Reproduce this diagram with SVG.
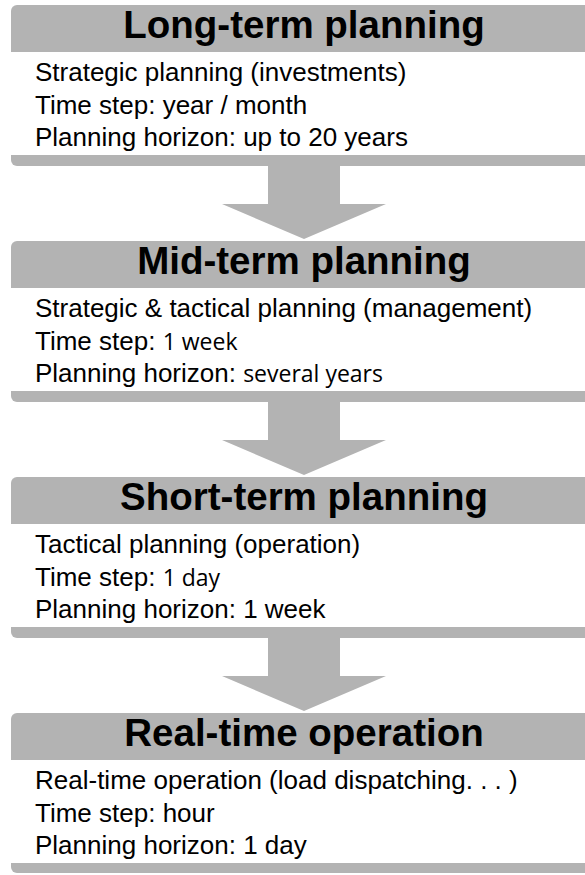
<svg xmlns="http://www.w3.org/2000/svg" width="585" height="875" viewBox="0 0 585 875">
  <style>
    .frame { fill: #b3b3b3; }
    .body { fill: #ffffff; }
    .arrow { fill: #b3b3b3; }
    .title { font-family: "Liberation Sans", Arial, sans-serif; font-weight: bold; font-size: 38.5px; fill: #000; text-anchor: middle; }
    .line { font-family: "Liberation Sans", Arial, sans-serif; font-size: 26px; fill: #000; }
    .alt { font-family: "Open Sans", "Noto Sans", sans-serif; font-size: 23px; }
  </style>

  <rect width="585" height="875" fill="#ffffff"/>

  <!-- connectors: thick block arrows between stages -->
  <g id="connectors">
    <polygon class="arrow" points="268,166 340,166 340,204 386,204 304,239 222,204 268,204"/>
    <polygon class="arrow" points="268,402 340,402 340,440 386,440 304,475 222,440 268,440"/>
    <polygon class="arrow" points="268,638 340,638 340,676 386,676 304,711 222,676 268,676"/>
  </g>

  <!-- stage 1 -->
  <g id="long-term">
    <rect class="frame" x="11" y="5" width="600" height="161" rx="6"/>
    <rect class="body" x="11" y="52" width="600" height="103"/>
    <text class="title" x="304" y="37.5">Long-term planning</text>
    <text class="line" x="35" y="81">Strategic planning (investments)</text>
    <text class="line" x="35" y="113.5">Time step: year / month</text>
    <text class="line" x="35" y="146">Planning horizon: up to 20 years</text>
  </g>

  <!-- stage 2 -->
  <g id="mid-term">
    <rect class="frame" x="11" y="241" width="600" height="161" rx="6"/>
    <rect class="body" x="11" y="288" width="600" height="103"/>
    <text class="title" x="304" y="273.5">Mid-term planning</text>
    <text class="line" x="35" y="317">Strategic &amp; tactical planning (management)</text>
    <text class="line" x="35" y="349.5">Time step: <tspan class="alt">1 week</tspan></text>
    <text class="line" x="35" y="382">Planning horizon: <tspan class="alt">several years</tspan></text>
  </g>

  <!-- stage 3 -->
  <g id="short-term">
    <rect class="frame" x="11" y="477" width="600" height="161" rx="6"/>
    <rect class="body" x="11" y="524" width="600" height="103"/>
    <text class="title" x="304" y="509.5">Short-term planning</text>
    <text class="line" x="35" y="553">Tactical planning (operation)</text>
    <text class="line" x="35" y="585.5">Time step: <tspan class="alt">1 day</tspan></text>
    <text class="line" x="35" y="618">Planning horizon: 1 week</text>
  </g>

  <!-- stage 4 -->
  <g id="real-time">
    <rect class="frame" x="11" y="713" width="600" height="160" rx="6"/>
    <rect class="body" x="11" y="760" width="600" height="103"/>
    <text class="title" x="304" y="745.5">Real-time operation</text>
    <text class="line" x="35" y="789">Real-time operation (load dispatching. . . )</text>
    <text class="line" x="35" y="821.5">Time step: hour</text>
    <text class="line" x="35" y="854">Planning horizon: 1 day</text>
  </g>
</svg>
